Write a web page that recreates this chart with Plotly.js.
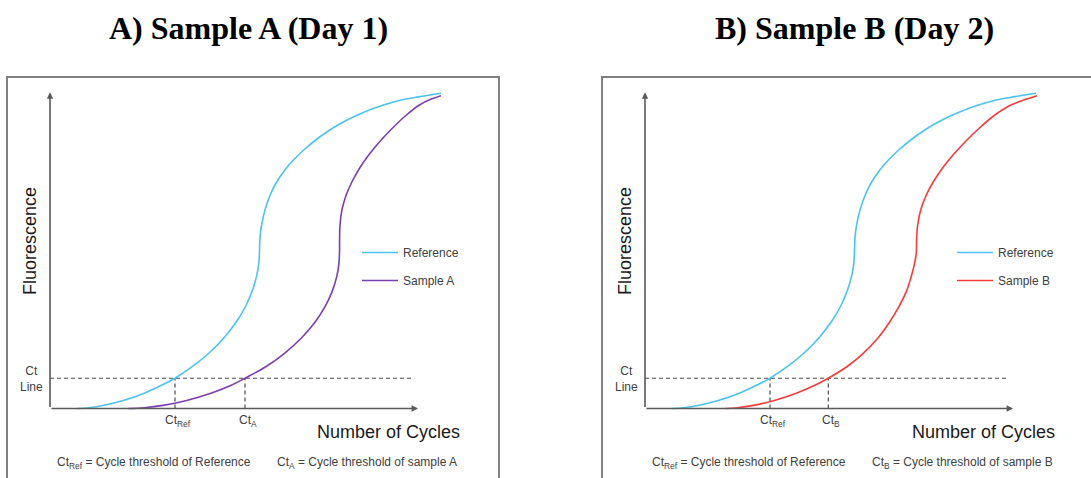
<!DOCTYPE html>
<html>
<head>
<meta charset="utf-8">
<script src="https://cdn.plot.ly/plotly-3.0.1.min.js"></script>
<style>html,body{margin:0;padding:0;background:#fff;}#chart{width:1091px;height:478px;}</style>
</head>
<body>
<div id="chart"></div>
<script>
// ---- data (x = cycles, y = fluorescence, arbitrary units) ----
const refX = [2.70, 3.90, 5.42, 7.32, 9.55, 11.26, 12.5, 14.35, 15.9, 17.45, 18.67, 19.6, 20.27, 20.71, 20.9, 20.95,
  21.0, 21.16, 21.5, 22.02, 22.58, 23.48, 24.34, 25.37, 26.83, 28.29, 29.71, 31.45, 33.04, 35.11, 37.0, 39.1];
const refY = [0, 0.25, 1.02, 2.51, 5.03, 7.55, 9.6, 13.58, 17.61, 22.62, 27.66, 32.68, 37.72, 42.73, 46.76, 50.29,
  54.25, 58.22, 62.98, 67.73, 71.38, 75.67, 78.84, 82.01, 85.82, 88.99, 91.53, 94.07, 95.97, 97.88, 98.95, 100];
const sampleAX = [7.83, 9.43, 11.29, 13.57, 16.16, 18.13, 19.5, 21.62, 23.36, 25.09, 26.44, 27.46, 28.2, 28.68, 28.89, 28.95,
  28.96, 29.0, 29.19, 29.62, 30.19, 30.97, 31.87, 32.94, 34.26, 35.64, 36.95, 38.0, 39.1];
const sampleAY = [0, 0.25, 0.98, 2.47, 4.93, 7.39, 9.6, 13.32, 17.26, 22.21, 27.13, 32.07, 36.99, 41.94, 45.88, 49.33,
  53.78, 58.22, 62.98, 67.74, 71.86, 76.3, 80.43, 84.55, 88.99, 93.12, 96.29, 98.0, 99.24];
const sampleBX = [8.0, 9.26, 10.85, 12.85, 15.19, 16.99, 18.33, 20.22, 21.74, 23.25, 24.4, 25.35, 26.12, 26.63, 26.95, 27.13,
  27.16, 27.27, 27.57, 28.13, 28.82, 29.76, 30.8, 32.0, 33.44, 34.99, 36.59, 38.0, 39.2];
const sampleBY = [0, 0.25, 0.98, 2.47, 4.93, 7.39, 9.6, 13.32, 17.26, 22.21, 27.13, 32.07, 36.99, 41.94, 45.88, 49.33,
  53.78, 58.22, 62.98, 67.74, 71.86, 76.3, 80.43, 84.55, 88.99, 93.12, 96.29, 98.0, 99.24];
const threshold = 9.6;
const ctRef = 12.5, ctA = 19.5, ctB = 18.33;
const ctLineEnd = 36.3;
const xAxisEnd = 36.8, yAxisEnd = 100.3;
const panelTitles = ["A) Sample A (Day 1)", "B) Sample B (Day 2)"];
const seriesNames = ["Reference", "Sample A", "Sample B"];

const cRef = '#4cc3ee', cA = '#7b3fae', cB = '#f23c3c';
const dashCol = '#4a4a4a', axCol = '#595959', txt = '#404040';
const W = 1091, H = 478;
const base = 408.5, pxu = 3.152;

function curve(x, y, name, color, xa, ya, legend, group) {
  return {x, y, name, type: 'scatter', mode: 'lines', xaxis: xa, yaxis: ya,
    line: {color, width: 1.6, shape: 'spline', smoothing: 1, simplify: false},
    legend, legendgroup: group, hoverinfo: 'skip'};
}
function dash(x, y, xa, ya) {
  return {x, y, type: 'scatter', mode: 'lines', xaxis: xa, yaxis: ya, showlegend: false,
    line: {color: dashCol, width: 1.2, dash: '4px,3px'}, hoverinfo: 'skip'};
}

const traces = [
  dash([0, ctLineEnd], [threshold, threshold], 'x', 'y'),
  dash([ctRef, ctRef], [0, threshold], 'x', 'y'),
  dash([ctA, ctA], [0, threshold], 'x', 'y'),
  dash([0, ctLineEnd], [threshold, threshold], 'x2', 'y2'),
  dash([ctRef, ctRef], [0, threshold], 'x2', 'y2'),
  dash([ctB, ctB], [0, threshold], 'x2', 'y2'),
  curve(refX, refY, seriesNames[0], cRef, 'x', 'y', 'legend', 'g1'),
  curve(sampleAX, sampleAY, seriesNames[1], cA, 'x', 'y', 'legend', 'g2'),
  curve(refX, refY, seriesNames[0], cRef, 'x2', 'y2', 'legend2', 'h1'),
  curve(sampleBX, sampleBY, seriesNames[2], cB, 'x2', 'y2', 'legend2', 'h2'),
];

const yr = [-(H - base) / pxu, base / pxu];
const py = p => (base - p) / pxu;
const hid = {visible: false, showgrid: false, zeroline: false, fixedrange: true};
const font = {family: '"Liberation Sans", Arial, sans-serif', size: 12, color: txt};

const ann = [];
function A(o) { ann.push(Object.assign({showarrow: false, font: font}, o)); }
['', '2'].forEach((s, i) => {
  const xr = 'x' + s, yrf = 'y' + s;
  // axes arrows
  ann.push({x: xAxisEnd, y: 0, ax: 0, ay: 0, xref: xr, yref: yrf, axref: xr, ayref: yrf, text: '',
    showarrow: true, arrowhead: 2, arrowsize: 0.8, arrowwidth: 1.6, arrowcolor: axCol, standoff: 0, startstandoff: 0});
  ann.push({x: 0, y: yAxisEnd, ax: 0, ay: 0, xref: xr, yref: yrf, axref: xr, ayref: yrf, text: '',
    showarrow: true, arrowhead: 2, arrowsize: 0.8, arrowwidth: 1.6, arrowcolor: axCol, standoff: 0, startstandoff: 0});
  A({xref: 'paper', yref: 'paper', x: (i === 0 ? 248 : 854) / W, y: 1 - 28 / H, xanchor: 'center', yanchor: 'middle',
    text: '<b>' + panelTitles[i] + '</b>',
    font: {family: '"Liberation Serif", "Times New Roman", serif', size: 32, color: '#000'}});
  A({xref: xr, yref: yrf, x: -2.0, y: py(241), text: 'Fluorescence', textangle: -90,
    font: {family: font.family, size: 18, color: '#1a1a1a'}});
  A({xref: xr, yref: yrf, x: 33.8, y: py(432), text: 'Number of Cycles',
    font: {family: font.family, size: 18, color: '#1a1a1a'}});
  A({xref: xr, yref: yrf, x: -1.9, y: py(379), text: 'Ct<br>Line', align: 'center'});
  A({xref: xr, yref: yrf, x: ctRef + 0.3, y: py(421), text: 'Ct<sub>Ref</sub>'});
  A({xref: xr, yref: yrf, x: (i === 0 ? ctA : ctB) + 0.3, y: py(421), text: 'Ct<sub>' + (i === 0 ? 'A' : 'B') + '</sub>'});
  A({xref: xr, yref: yrf, x: 0.5, y: py(463), xanchor: 'left', text: 'Ct<sub>Ref</sub> = Cycle threshold of Reference'});
  A({xref: xr, yref: yrf, x: 22.5, y: py(463), xanchor: 'left',
    text: 'Ct<sub>' + (i === 0 ? 'A' : 'B') + '</sub> = Cycle threshold of sample ' + (i === 0 ? 'A' : 'B')});
});

const box = {type: 'rect', xref: 'paper', yref: 'paper', y0: -0.05, y1: 1 - 77 / H,
  line: {color: '#7f7f7f', width: 2}, fillcolor: 'rgba(0,0,0,0)', layer: 'below'};
const legBase = {bgcolor: 'rgba(0,0,0,0)', borderwidth: 0, font: font, traceorder: 'grouped',
  tracegroupgap: 9, yanchor: 'top', xanchor: 'left', itemclick: false, itemdoubleclick: false, itemwidth: 36};

const layout = {
  width: W, height: H, margin: {l: 0, r: 0, t: 0, b: 0, pad: 0},
  paper_bgcolor: '#fff', plot_bgcolor: 'rgba(0,0,0,0)',
  xaxis: Object.assign({domain: [0, 0.5], range: [-5, 49.55]}, hid),
  yaxis: Object.assign({domain: [0, 1], range: yr}, hid),
  xaxis2: Object.assign({domain: [0.5, 1], range: [-9.95, 44.6]}, hid),
  yaxis2: Object.assign({domain: [0, 1], range: yr}, hid),
  showlegend: true,
  legend: Object.assign({x: 357 / W, y: 1 - 238 / H}, legBase),
  legend2: Object.assign({x: 952 / W, y: 1 - 238 / H}, legBase),
  annotations: ann,
  shapes: [Object.assign({x0: 7 / W, x1: 499 / W}, box), Object.assign({x0: 602 / W, x1: 1.01}, box)],
};
Plotly.newPlot('chart', traces, layout, {staticPlot: true, displayModeBar: false});
</script>
</body>
</html>
